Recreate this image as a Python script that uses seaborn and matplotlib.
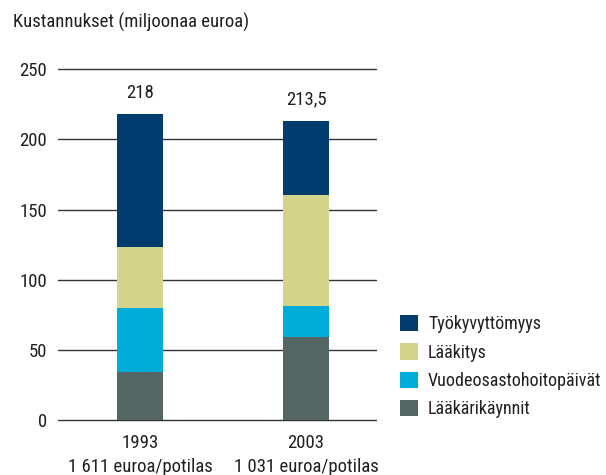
import matplotlib
matplotlib.use("Agg")
import matplotlib.pyplot as plt
from matplotlib.patches import Patch
import seaborn as sns
import numpy as np

years = ["1993", "2003"]
per_patient = ["1 611 euroa/potilas", "1 031 euroa/potilas"]
categories = ["Lääkärikäynnit", "Vuodeosastohoitopäivät", "Lääkitys", "Työkyvyttömyys"]
laakarikaynnit = [34.5, 59.5]
vuodeosasto = [45.5, 22.0]
laakitys = [43.5, 79.0]
tyokyvyttomyys = [94.5, 53.0]
colors = ["#536664", "#00ADD8", "#D4D38A", "#003D6E"]

sns.set_style("white")
plt.rcParams["font.family"] = ["Roboto Condensed", "Archivo Narrow", "PT Sans Narrow",
                               "Fira Sans Condensed", "DejaVu Sans"]
text_color = "#231f20"
fs = 13.5

fig = plt.figure(figsize=(6.06, 4.75), dpi=100)
ax = fig.add_axes([58 / 606, 54.7 / 475, 318 / 606, 351 / 475])

layers = np.array([laakarikaynnit, vuodeosasto, laakitys, tyokyvyttomyys])
cum = np.cumsum(layers, axis=0)

# draw from the top layer down so each shorter bar covers the one before it
for i in range(len(categories) - 1, -1, -1):
    sns.barplot(x=years, y=cum[i], color=colors[i], width=0.277, saturation=1,
                errorbar=None, linewidth=0, edgecolor="none", ax=ax, zorder=2)

totals = cum[-1]
for i, t in enumerate(totals):
    lab = str(int(t)) if float(t).is_integer() else f"{t:.1f}".replace(".", ",")
    ax.annotate(lab, (i, t), xytext=(0, 11.5), textcoords="offset points",
                ha="center", va="baseline", fontsize=fs, color=text_color)

ax.set_ylim(0, 250)
ax.set_xlim(-0.494, 1.422)
ax.set_yticks([0, 50, 100, 150, 200, 250])
ax.yaxis.grid(True, color="#333333", linewidth=1.0)
ax.set_axisbelow(True)
for s in ax.spines.values():
    s.set_visible(False)
ax.tick_params(axis="both", length=0, labelsize=fs, colors=text_color)
ax.tick_params(axis="y", pad=8)
ax.tick_params(axis="x", pad=10)
ax.set_xticks([0, 1])
ax.set_xticklabels([f"{y}\n{p}" for y, p in zip(years, per_patient)], linespacing=1.45)
ax.set_xlabel("")
ax.set_ylabel("")
for g in ax.get_ygridlines():
    g.set_clip_on(False)

fig.text(13 / 606, 1 - 22 / 475, "Kustannukset (miljoonaa euroa)", fontsize=fs,
         color=text_color, va="center", ha="left")

handles = [Patch(facecolor=colors[i], edgecolor="none") for i in range(3, -1, -1)]
labels = [categories[i] for i in range(3, -1, -1)]
fig.legend(handles, labels, loc="upper left", bbox_to_anchor=(400 / 606, 1 - 315 / 475),
           frameon=False, fontsize=13, handlelength=1.0, handleheight=1.0,
           handletextpad=0.55, labelspacing=0.56, borderpad=0, borderaxespad=0,
           labelcolor=text_color)

fig.savefig("out.png", dpi=100)
